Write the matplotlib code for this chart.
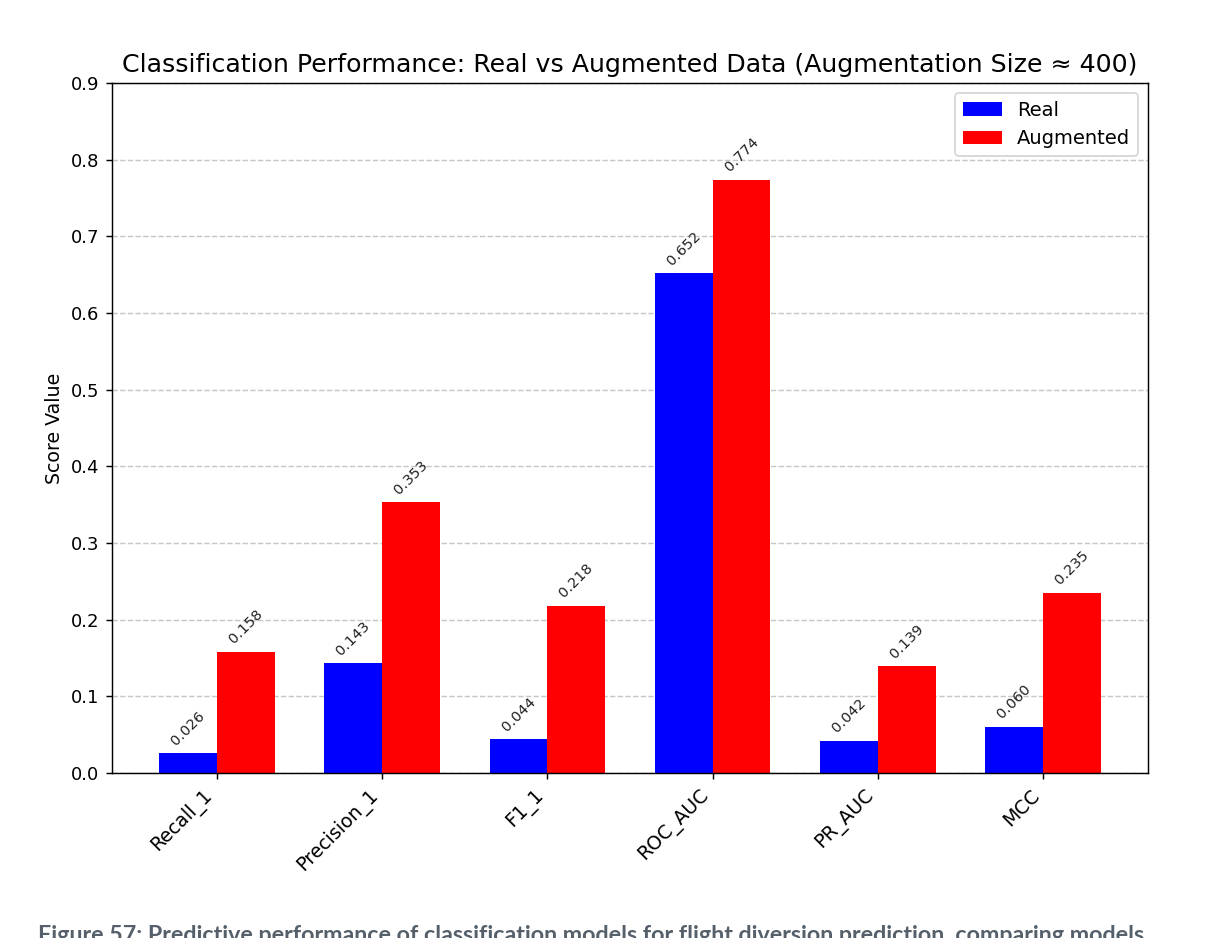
import matplotlib
matplotlib.use("Agg")
import matplotlib.pyplot as plt
import numpy as np

metrics = ["Recall_1", "Precision_1", "F1_1", "ROC_AUC", "PR_AUC", "MCC"]
real_scores = [0.026, 0.143, 0.044, 0.652, 0.042, 0.060]
aug_scores = [0.158, 0.353, 0.218, 0.774, 0.139, 0.235]
title = "Classification Performance: Real vs Augmented Data (Augmentation Size \u2248 400)"
caption = "Figure 57: Predictive performance of classification models for flight diversion prediction, comparing models"

DPI = 130
fig = plt.figure(figsize=(1213 / DPI, 938 / DPI), dpi=DPI)
ax = fig.add_axes([0.0923, 0.1759, 0.8541, 0.7356])

x = np.arange(len(metrics))
w = 0.35
b1 = ax.bar(x - w/2, real_scores, w, color="blue", label="Real")
b2 = ax.bar(x + w/2, aug_scores, w, color="red", label="Augmented")

for bars in (b1, b2):
    for b in bars:
        h = b.get_height()
        ax.annotate(f"{h:.3f}", (b.get_x() + b.get_width()/2, h),
                    xytext=(0, 3), textcoords="offset points",
                    ha="center", va="bottom", rotation=45, fontsize=8, color="#222222")

ax.set_ylim(0, 0.9)
ax.set_xticks(x)
ax.set_xticklabels(metrics, rotation=45, ha="right", fontsize=10.5)
ax.tick_params(axis="y", labelsize=10)
ax.set_ylabel("Score Value", fontsize=10.5)
ax.set_title(title, fontsize=14, pad=6)
ax.yaxis.grid(True, linestyle="--", alpha=0.7)
ax.set_axisbelow(True)
ax.legend(loc="upper right", fontsize=10.8)

fig.text(0.031, -0.009, caption, fontsize=12.9, fontweight="bold", color="#55606b",
         family="Lato", ha="left", va="bottom")

fig.savefig("out.png", dpi=DPI)
